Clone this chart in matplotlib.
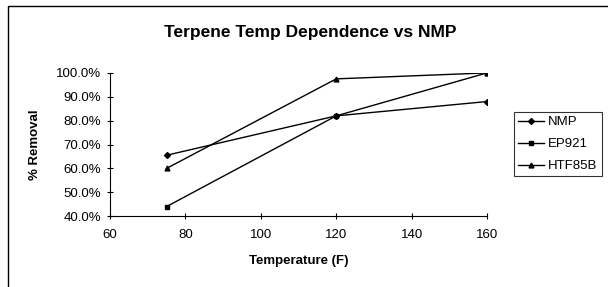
import matplotlib
matplotlib.use("Agg")
import matplotlib.pyplot as plt
from matplotlib.patches import Rectangle
from matplotlib.ticker import PercentFormatter

plt.rcParams['font.family'] = ['Liberation Sans', 'DejaVu Sans']

temps = [75, 120, 160]
nmp = [65.5, 82.0, 88.0]
ep921 = [44.0, 82.0, 100.0]
htf85b = [60.0, 97.5, 100.0]

fig = plt.figure(figsize=(6.08, 2.87), dpi=100)
ax = fig.add_axes([0.181, 0.247, 0.62, 0.499])

ax.plot(temps, nmp, color='black', lw=1, marker='D', ms=3, label='NMP')
ax.plot(temps, ep921, color='black', lw=1, marker='s', ms=3.5, label='EP921')
ax.plot(temps, htf85b, color='black', lw=1, marker='^', ms=3.5, label='HTF85B')

ax.set_xlim(60, 160)
ax.set_ylim(40, 100)
ax.set_xticks([60, 80, 100, 120, 140, 160])
ax.set_yticks([40, 50, 60, 70, 80, 90, 100])
ax.yaxis.set_major_formatter(PercentFormatter(decimals=1))
ax.tick_params(direction='inout', length=5, width=0.8, labelsize=9.5)
ax.tick_params(axis='y', pad=4)
ax.tick_params(axis='x', pad=7)
for s in ['top', 'right']:
    ax.spines[s].set_visible(False)

ax.set_xlabel('Temperature (F)', fontsize=9.5, fontweight='bold', labelpad=10)
ax.set_ylabel('% Removal', fontsize=9.5, fontweight='bold', labelpad=11)
fig.text(0.51, 1 - 33 / 287, 'Terpene Temp Dependence vs NMP', ha='center', va='center',
         fontsize=12.5, fontweight='bold')

leg = ax.legend(loc='upper left', bbox_to_anchor=(514 / 608, 1 - 112 / 287),
                bbox_transform=fig.transFigure, borderaxespad=0, fontsize=9.5,
                frameon=True, fancybox=False, edgecolor='black',
                handlelength=2.0, borderpad=0.3, labelspacing=0.75, handletextpad=0.3)
leg.get_frame().set_linewidth(0.8)

fig.add_artist(Rectangle((0.013, -0.01), 1.0, 0.99, transform=fig.transFigure,
                         fill=False, edgecolor='black', lw=1))

fig.savefig('out.png', dpi=100)
